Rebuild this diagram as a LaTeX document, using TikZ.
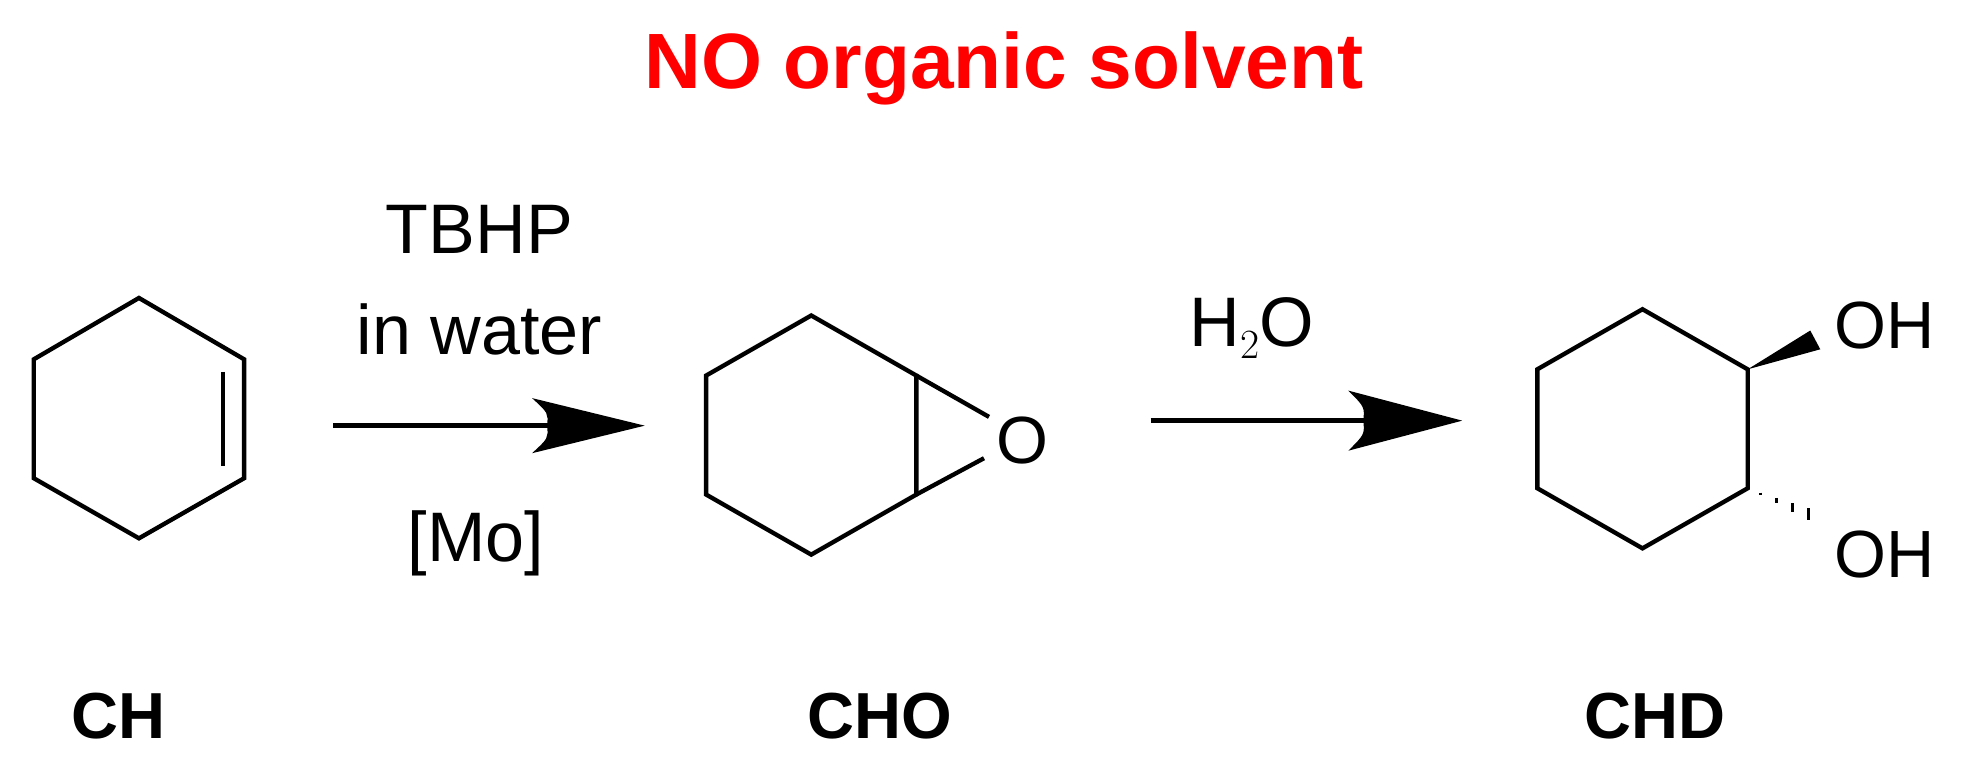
\documentclass[tikz,border=0pt]{standalone}
\usepackage{fontspec}
\setmainfont{Liberation Sans}
\usetikzlibrary{calc}
\begin{document}
\begin{tikzpicture}[x=0.75pt,y=-0.75pt,line width=2.6pt,line join=miter,
  reag/.style={font=\fontsize{42}{46}\selectfont,inner sep=0pt},
  lbl/.style={font=\fontsize{39}{44}\selectfont\bfseries,inner sep=0pt},
  atom/.style={font=\fontsize{40}{44}\selectfont,inner sep=0pt}]
\useasboundingbox (0,0) rectangle (1568,626);
\node[font=\fontsize{47}{52}\selectfont\bfseries,text=red,inner sep=0pt] (title) at (802,55) {NO organic solvent};
% CH
\draw (111,238) -- (195,287) -- (195,382) -- (111,430) -- (27,382) -- (27,287) -- cycle;
\draw (178,297) -- (178,372);
% arrow 1
\coordinate (a1s) at (266,340); \coordinate (a1e) at (515,340);
\draw (a1s) -- (440,340);
\fill (a1e) -- (425,318) .. controls (438,330) .. (437,340) .. controls (438,350) .. (425,362) -- cycle;
\node[reag] (tbhp) at (383,183) {TBHP};
\node[reag] (wat) at (383,263) {in water};
\node[reag] (mo) at (380,434) {[Mo]};
% CHO
\draw (732,300) -- (648,252) -- (564,300) -- (564,395) -- (648,443) -- (732,395) -- cycle;
\node[atom] (O1) at (817,352) {O};
\draw (732,300) -- (790,333);
\draw (732,395) -- (786,366);
% arrow 2
\coordinate (a2s) at (919,336); \coordinate (a2e) at (1168,336);
\draw (a2s) -- (1092,336);
\fill (a2e) -- (1077,312) .. controls (1090,325) .. (1089,336) .. controls (1090,347) .. (1077,360) -- cycle;
\node[reag] (h2o) at (1000,262) {H$_2$O};
% CHD
\draw (1396,295) -- (1312,247) -- (1228,295) -- (1228,390) -- (1312,438) -- (1396,390) -- cycle;
\fill (1396,295) -- (1446,264) -- (1454,279) -- cycle;
\foreach \t in {0.2,0.45,0.7,0.95}
  \draw[line width=2pt] ($(1396,390)!\t!(1447,412)+(0,-5*\t)$) -- ($(1396,390)!\t!(1447,412)+(0,5*\t)$);
\node[atom] (OH1) at (1505,260) {OH};
\node[atom] (OH2) at (1505,443) {OH};
% labels
\node[lbl] (ch) at (95,572) {CH};
\node[lbl] (cho) at (703,572) {CHO};
\node[lbl] (chd) at (1322,572) {CHD};
\end{tikzpicture}
\end{document}
